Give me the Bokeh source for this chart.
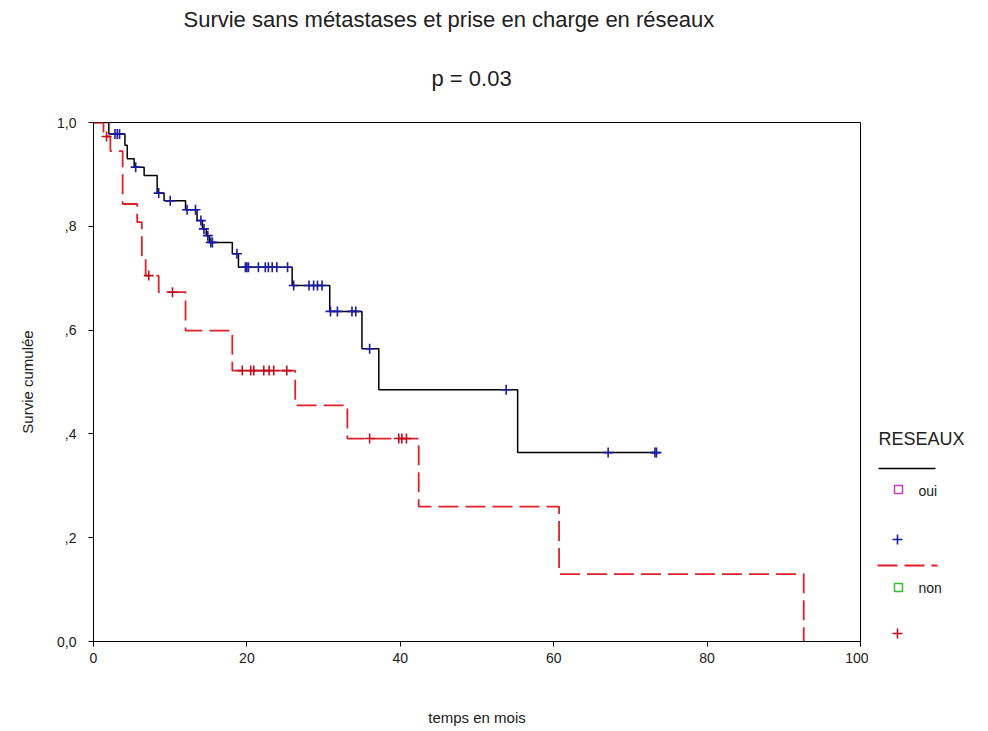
import numpy as np
from bokeh.plotting import figure
from bokeh.layouts import row
from bokeh.models import FixedTicker, Range1d, Title
from bokeh.core.properties import value
from bokeh.embed import file_html
from bokeh.resources import INLINE

# ---------------- data ----------------
title_text = "Survie sans métastases et prise en charge en réseaux"
subtitle_text = "p = 0.03"
x_label = "temps en mois"
y_label = "Survie cumulée"
legend_title = "RESEAUX"
group_names = ["oui", "non"]

x_ticks = [0, 20, 40, 60, 80, 100]
y_ticks = [0.0, 0.2, 0.4, 0.6, 0.8, 1.0]
y_tick_labels = ["0,0", ",2", ",4", ",6", ",8", "1,0"]

# group "oui" (solid black line, blue censor marks)
oui_event_t = [2.0, 4.1, 4.4, 5.3, 6.6, 8.3, 9.2, 12.0, 13.5, 14.2, 14.7, 15.1,
               18.1, 18.9, 25.9, 30.8, 35.0, 37.2, 55.3]
oui_surv = [0.978, 0.956, 0.930, 0.914, 0.898, 0.864, 0.849, 0.832, 0.811, 0.795,
            0.782, 0.769, 0.747, 0.721, 0.686, 0.636, 0.564, 0.485, 0.364]
oui_censor_t = [2.8, 3.1, 3.4, 5.5, 8.5, 10.0, 12.2, 13.3, 14.0, 14.4, 14.9, 15.3, 15.5,
                18.7, 19.8, 20.0, 20.2, 21.5, 22.4, 22.8, 23.3, 23.9, 25.3,
                26.1, 28.1, 28.7, 29.2, 29.8, 30.9, 31.8, 33.7, 34.2, 36.0,
                53.8, 67.1, 73.2, 73.4]
oui_end_t = 73.4

# group "non" (dashed red line, red censor marks)
non_event_t = [1.3, 2.2, 3.8, 5.7, 6.3, 6.8, 8.5, 12.0, 18.1, 26.3, 33.1, 42.4, 60.7, 92.6]
non_surv = [0.973, 0.945, 0.843, 0.808, 0.741, 0.705, 0.673, 0.599, 0.522, 0.455,
            0.391, 0.260, 0.130, 0.0]
non_censor_t = [1.7, 7.2, 10.3, 19.4, 20.5, 20.9, 22.2, 22.9, 23.5, 25.2,
                36.0, 39.8, 40.2, 40.8]
non_end_t = 92.6

# ---------------- geometry / style ----------------
H = 728
W_MAIN, W_LEG = 868, 117
BL, BT = 93, 122
FW, FH = 767, 519
BR = W_MAIN - BL - FW
BB = H - BT - FH

FONT = "Liberation Sans"
TXT = "#202020"
OUI_LINE = "#000000"
OUI_MARK = "#1a1aa0"
NON_LINE = "#e0202a"
NON_MARK = "#c01020"

p = figure(width=W_MAIN, height=H, x_range=Range1d(0, 100), y_range=Range1d(0, 1),
           output_backend="svg", toolbar_location=None,
           min_border_left=BL, min_border_right=BR, min_border_top=BT, min_border_bottom=BB)
p.background_fill_color = "white"
p.border_fill_color = "white"
p.outline_line_color = "black"
p.outline_line_width = 1
p.xgrid.visible = False
p.ygrid.visible = False

for ax in (p.xaxis[0], p.yaxis[0]):
    ax.axis_line_color = "black"
    ax.major_tick_line_color = "black"
    ax.major_tick_out = 5
    ax.major_tick_in = 0
    ax.minor_tick_line_color = None
    ax.major_label_text_font = FONT
    ax.major_label_text_font_size = "14px"
    ax.major_label_text_color = TXT
    ax.axis_label_text_font = FONT
    ax.axis_label_text_font_size = "15px"
    ax.axis_label_text_font_style = "normal"
    ax.axis_label_text_color = TXT

p.xaxis.ticker = FixedTicker(ticks=x_ticks)
p.yaxis.ticker = FixedTicker(ticks=y_ticks)
p.yaxis.major_label_overrides = {t: l for t, l in zip(y_ticks, y_tick_labels)}
p.xaxis.axis_label = x_label
p.yaxis.axis_label = y_label
p.xaxis.axis_label_standoff = 43
p.yaxis.axis_label_standoff = 18
p.xaxis.major_label_standoff = 6
p.yaxis.major_label_standoff = 12

# titles (subtitle nearest the frame, main title above it)
p.add_layout(Title(text=subtitle_text, align="left", offset=338, standoff=64,
                   text_font=FONT, text_font_size="22px", text_font_style="normal",
                   text_color=TXT), "above")
p.add_layout(Title(text=title_text, align="left", offset=90, standoff=0,
                   text_font=FONT, text_font_size="22px", text_font_style="normal",
                   text_color=TXT), "above")


def step_arrays(ev_t, surv, end_t):
    xs = [0.0] + list(ev_t) + [end_t]
    ys = [1.0] + list(surv) + [surv[-1]]
    return xs, ys


def censor_y(ev_t, surv, cens_t):
    full = np.array([1.0] + list(surv))
    idx = np.searchsorted(np.array(ev_t), np.array(cens_t), side="right")
    return full[idx]


xs, ys = step_arrays(oui_event_t, oui_surv, oui_end_t)
p.step(xs, ys, mode="after", line_color=OUI_LINE, line_width=1.5)
xs, ys = step_arrays(non_event_t, non_surv, non_end_t)
p.step(xs, ys, mode="after", line_color=NON_LINE, line_width=1.8, line_dash="20 7")

p.scatter(oui_censor_t, censor_y(oui_event_t, oui_surv, oui_censor_t), marker="cross",
          size=10, line_color=OUI_MARK, line_width=1.6)
p.scatter(non_censor_t, censor_y(non_event_t, non_surv, non_censor_t), marker="cross",
          size=10, line_color=NON_MARK, line_width=1.6)

# ---------------- legend panel (SPSS style), page-pixel coordinates ----------------
# the row layout aligns this panel's frame with the main frame (page y 122..641)
lg = figure(width=W_LEG, height=H, x_range=Range1d(0, W_LEG),
            y_range=Range1d(H - (BT + FH), H - BT),
            output_backend="svg", toolbar_location=None,
            min_border_left=0, min_border_right=0, min_border_top=BT, min_border_bottom=BB)
lg.axis.visible = False
lg.grid.visible = False
lg.outline_line_color = None
lg.background_fill_color = "white"
lg.border_fill_color = "white"


def yy(page_y):
    return H - page_y


lg.text(x=[10], y=[yy(438)], text=[legend_title], text_font=value(FONT),
        text_font_size="18px", text_color=TXT, text_baseline="middle", text_align="left")
lg.line(x=[10, 67], y=[yy(468), yy(468)], line_color=OUI_LINE, line_width=1.5)
lg.scatter(x=[30], y=[yy(489)], marker="square", size=8, fill_color=None,
           line_color="#c040c0", line_width=1.5)
lg.text(x=[50], y=[yy(490)], text=[group_names[0]], text_font=value(FONT),
        text_font_size="14px", text_color=TXT, text_baseline="middle", text_align="left")
lg.scatter(x=[29], y=[yy(539)], marker="cross", size=10, line_color=OUI_MARK, line_width=1.6)
lg.line(x=[9, 69], y=[yy(565), yy(565)], line_color=NON_LINE, line_width=1.8,
        line_dash="20 7")
lg.scatter(x=[30], y=[yy(587)], marker="square", size=8, fill_color=None,
           line_color="#30c030", line_width=1.5)
lg.text(x=[50], y=[yy(587)], text=[group_names[1]], text_font=value(FONT),
        text_font_size="14px", text_color=TXT, text_baseline="middle", text_align="left")
lg.scatter(x=[29], y=[yy(633)], marker="cross", size=10, line_color=NON_MARK, line_width=1.6)

layout = row(p, lg)
open("out.html", "w").write(file_html(layout, INLINE))
